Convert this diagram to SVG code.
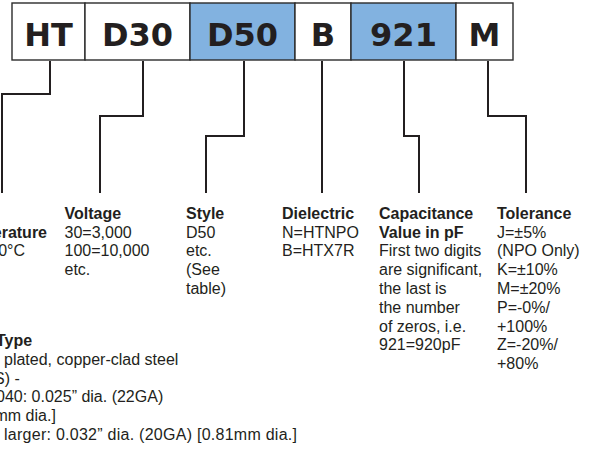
<svg xmlns="http://www.w3.org/2000/svg" width="592" height="450" viewBox="0 0 592 450">
<style>
.box{stroke:#2b2b2b;stroke-width:1.4;fill:#ffffff}
.hl{fill:#82b2e0}
.code{font-family:"DejaVu Sans",sans-serif;font-weight:bold;font-size:32px;fill:#231f20;text-anchor:middle}
.conn{fill:none;stroke:#231f20;stroke-width:2}
.t{font-family:"Liberation Sans",Arial,sans-serif;font-size:16px;fill:#231f20}
.b{font-weight:bold}
</style>
<rect width="592" height="450" fill="#ffffff"/>
<g id="box-HT"><rect class="box" x="12" y="3" width="73" height="57"/><text class="code" x="48.5" y="46">HT</text></g>
<g id="box-D30"><rect class="box" x="85" y="3" width="105" height="57"/><text class="code" x="137.5" y="46">D30</text></g>
<g id="box-D50"><rect class="box hl" x="190" y="3" width="105" height="57"/><text class="code" x="242.5" y="46">D50</text></g>
<g id="box-B"><rect class="box" x="295" y="3" width="56" height="57"/><text class="code" x="323" y="46">B</text></g>
<g id="box-921"><rect class="box hl" x="351" y="3" width="105" height="57"/><text class="code" x="403.5" y="46">921</text></g>
<g id="box-M"><rect class="box" x="456" y="3" width="57" height="57"/><text class="code" x="484.5" y="46">M</text></g>
<g id="connectors">
<polyline class="conn" points="50,61 50,94 2,94 2,193"/>
<polyline class="conn" points="143,61 143,116 100,116 100,193"/>
<polyline class="conn" points="244,61 244,136 206,136 206,193"/>
<polyline class="conn" points="322,61 322,193"/>
<polyline class="conn" points="404,61 404,136 419,136 419,193"/>
<polyline class="conn" points="488,61 488,116 526,116 526,193"/>
</g>
<g id="temperature">
<text class="t b" x="47" y="237.5" text-anchor="end">erature</text>
<text class="t" x="25" y="256.3" text-anchor="end">0°C</text>
</g>
<g id="voltage">
<text class="t b" x="64.5" y="218.7">Voltage</text>
<text class="t" x="64.5" y="237.5">30=3,000</text>
<text class="t" x="64.5" y="256.3">100=10,000</text>
<text class="t" x="64.5" y="275.1">etc.</text>
</g>
<g id="style">
<text class="t b" x="186" y="218.7">Style</text>
<text class="t" x="186" y="237.5">D50</text>
<text class="t" x="186" y="256.3">etc.</text>
<text class="t" x="186" y="275.1">(See</text>
<text class="t" x="186" y="293.9">table)</text>
</g>
<g id="dielectric">
<text class="t b" x="282" y="218.7">Dielectric</text>
<text class="t" x="282" y="237.5">N=HTNPO</text>
<text class="t" x="282" y="256.3">B=HTX7R</text>
</g>
<g id="capacitance">
<text class="t b" x="379" y="218.7">Capacitance</text>
<text class="t b" x="379" y="237.5">Value in pF</text>
<text class="t" x="379" y="256.3">First two digits</text>
<text class="t" x="379" y="275.1">are significant,</text>
<text class="t" x="379" y="293.9">the last is</text>
<text class="t" x="379" y="312.7">the number</text>
<text class="t" x="379" y="331.5">of zeros, i.e.</text>
<text class="t" x="379" y="350.3">921=920pF</text>
</g>
<g id="tolerance">
<text class="t b" x="497" y="218.7">Tolerance</text>
<text class="t" x="497" y="237.5">J=±5%</text>
<text class="t" x="497" y="256.3">(NPO Only)</text>
<text class="t" x="497" y="275.1">K=±10%</text>
<text class="t" x="497" y="293.9">M=±20%</text>
<text class="t" x="497" y="312.7">P=-0%/</text>
<text class="t" x="497" y="331.5">+100%</text>
<text class="t" x="497" y="350.3">Z=-20%/</text>
<text class="t" x="497" y="369.1">+80%</text>
</g>
<g id="lead-type">
<text class="t b" x="-4" y="346">Type</text>
<text class="t" x="4" y="364.8">plated, copper-clad steel</text>
<text class="t" x="-6" y="383.6">S) -</text>
<text class="t" x="-4" y="402.4">040: 0.025” dia. (22GA)</text>
<text class="t" x="-5.5" y="421.2">mm dia.]</text>
<text class="t" x="4" y="440" textLength="293">larger: 0.032” dia. (20GA) [0.81mm dia.]</text>
</g>
</svg>
